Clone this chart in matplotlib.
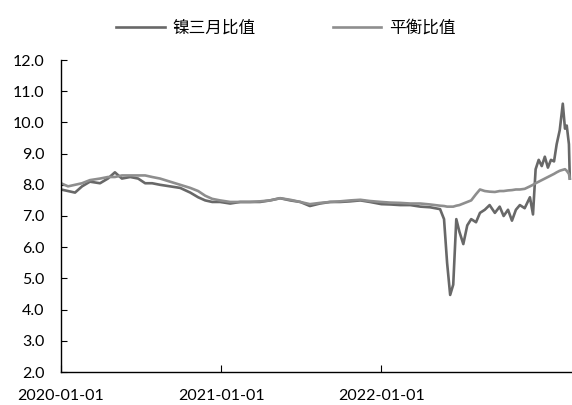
import matplotlib
matplotlib.use("Agg")
import matplotlib.pyplot as plt
import pandas as pd

plt.rcParams['font.family'] = ['Noto Sans CJK SC', 'DejaVu Sans']

# 日期与两条比值序列
dates = [
    "2020-01-01", "2020-01-17", "2020-02-02", "2020-02-18", "2020-03-07", "2020-03-30",
    "2020-04-17", "2020-05-03", "2020-05-19", "2020-06-07", "2020-06-25", "2020-07-11",
    "2020-07-27", "2020-08-14", "2020-09-06", "2020-09-29", "2020-10-22", "2020-11-09",
    "2020-11-25", "2020-12-11", "2020-12-29", "2021-01-21", "2021-02-13", "2021-03-07",
    "2021-03-30", "2021-04-22", "2021-05-15", "2021-06-07", "2021-06-30", "2021-07-22",
    "2021-08-14", "2021-09-06", "2021-09-29", "2021-10-22", "2021-11-14", "2021-12-06",
    "2022-01-01", "2022-01-21", "2022-02-13", "2022-03-08", "2022-03-31", "2022-04-22",
    "2022-05-15", "2022-05-24", "2022-05-31", "2022-06-07", "2022-06-14", "2022-06-21",
    "2022-06-28", "2022-07-07", "2022-07-16", "2022-07-25", "2022-08-05", "2022-08-14",
    "2022-08-25", "2022-09-05", "2022-09-17", "2022-09-28", "2022-10-07", "2022-10-17",
    "2022-10-26", "2022-11-04", "2022-11-13", "2022-11-24", "2022-12-06", "2022-12-13",
    "2022-12-19", "2022-12-26", "2023-01-02", "2023-01-09", "2023-01-16", "2023-01-23",
    "2023-01-30", "2023-02-05", "2023-02-12", "2023-02-19", "2023-02-24", "2023-02-28",
    "2023-03-05", "2023-03-07",
]
ratio_3m = [
    7.85, 7.80, 7.75, 7.95, 8.10, 8.05,
    8.20, 8.40, 8.20, 8.25, 8.20, 8.05,
    8.05, 8.00, 7.95, 7.90, 7.75, 7.60,
    7.50, 7.45, 7.45, 7.40, 7.45, 7.45,
    7.45, 7.50, 7.57, 7.50, 7.45, 7.32,
    7.40, 7.45, 7.45, 7.47, 7.50, 7.45,
    7.38, 7.37, 7.35, 7.35, 7.30, 7.28,
    7.22, 6.90, 5.50, 4.47, 4.80, 6.90,
    6.50, 6.10, 6.70, 6.90, 6.80, 7.10,
    7.20, 7.35, 7.10, 7.30, 7.00, 7.20,
    6.85, 7.20, 7.35, 7.25, 7.60, 7.05,
    8.50, 8.80, 8.60, 8.90, 8.55, 8.80,
    8.75, 9.30, 9.75, 10.60, 9.80, 9.90,
    9.30, 8.20,
]
ratio_balance = [
    8.05, 7.95, 8.00, 8.05, 8.15, 8.20,
    8.25, 8.25, 8.30, 8.30, 8.30, 8.30,
    8.25, 8.20, 8.10, 8.00, 7.90, 7.80,
    7.65, 7.55, 7.50, 7.45, 7.45, 7.45,
    7.47, 7.50, 7.57, 7.52, 7.45, 7.38,
    7.42, 7.45, 7.47, 7.50, 7.52, 7.48,
    7.45, 7.43, 7.42, 7.40, 7.40, 7.37,
    7.33, 7.32, 7.30, 7.30, 7.30, 7.33,
    7.35, 7.40, 7.45, 7.50, 7.70, 7.85,
    7.80, 7.78, 7.77, 7.80, 7.80, 7.82,
    7.83, 7.85, 7.85, 7.87, 7.95, 8.00,
    8.05, 8.10, 8.15, 8.20, 8.25, 8.30,
    8.35, 8.40, 8.45, 8.48, 8.50, 8.45,
    8.35, 8.20,
]
x_ticks = ["2020-01-01", "2021-01-01", "2022-01-01"]

d = pd.to_datetime(dates)

fig = plt.figure(figsize=(5.72, 4.05), dpi=100)
ax = fig.add_axes([61 / 572, 1 - 372 / 405, 1 - 61 / 572, (372 - 60) / 405])

ax.plot(d, ratio_3m, color='#686868', lw=1.9, label='镍三月比值')
ax.plot(d, ratio_balance, color='#8e8e8e', lw=1.9, label='平衡比值')

ax.set_ylim(2, 12)
ax.set_yticks(range(2, 13))
ax.yaxis.set_major_formatter(matplotlib.ticker.FormatStrFormatter('%.1f'))
ax.set_xlim(pd.Timestamp("2020-01-01"), pd.Timestamp("2023-03-12"))
ax.set_xticks(pd.to_datetime(x_ticks))
ax.set_xticklabels(x_ticks)

for s in ['top', 'right']:
    ax.spines[s].set_visible(False)
for s in ['left', 'bottom']:
    ax.spines[s].set_linewidth(1.0)
    ax.spines[s].set_color('black')

ax.tick_params(axis='y', direction='in', length=4, pad=12, labelsize=11.5)
ax.tick_params(axis='x', direction='in', length=5, pad=12.5, labelsize=11.5)
for lab in ax.get_xticklabels() + ax.get_yticklabels():
    lab.set_family(['Lato', 'DejaVu Sans'])

fig.legend(loc='center', bbox_to_anchor=(0.5, 1 - 28 / 405), ncol=2, frameon=False,
           fontsize=12, handlelength=2.9, columnspacing=4.6, handletextpad=0.5)

fig.savefig('out.png', dpi=100)
